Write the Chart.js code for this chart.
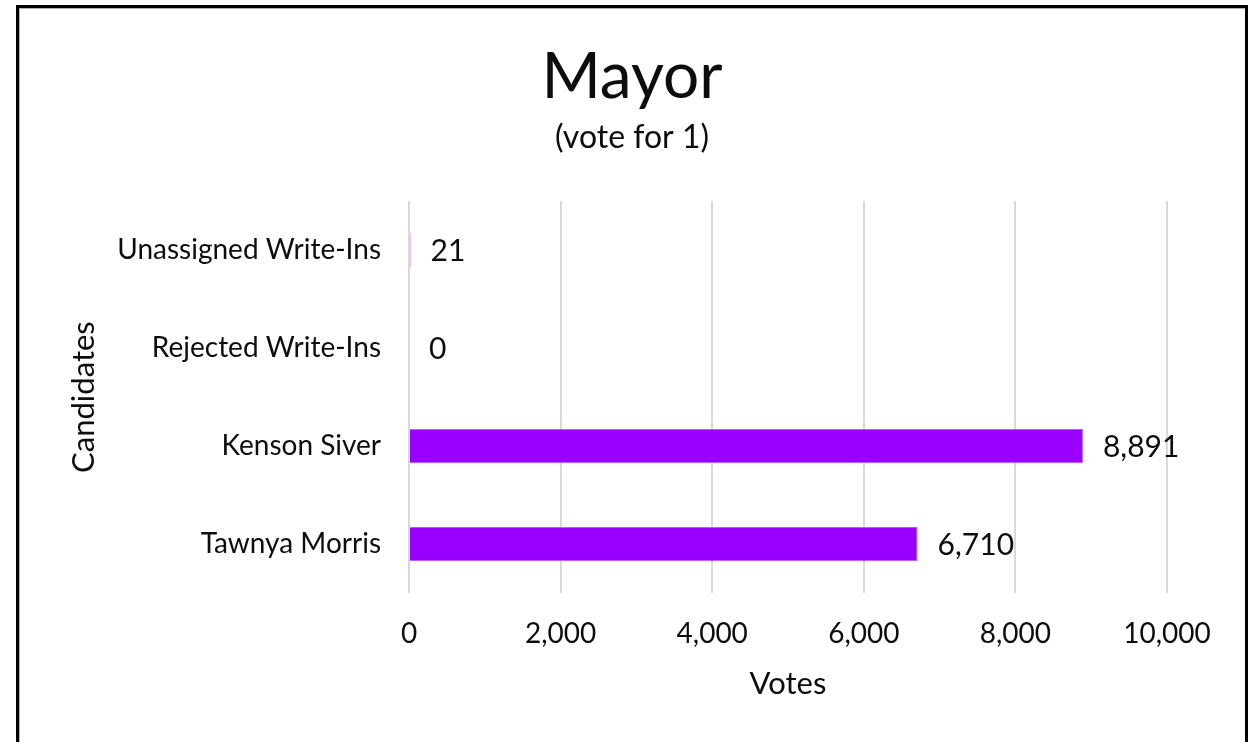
<!DOCTYPE html>
<html>
<head>
<meta charset="utf-8">
<script src="https://cdn.jsdelivr.net/npm/chart.js@4/dist/chart.umd.min.js"></script>
<style>
  html, body { margin: 0; padding: 0; background: #fff; }
  #wrap { position: relative; width: 1256px; height: 742px; overflow: hidden; }
  #frame {
    position: absolute; left: 16px; top: 5px; width: 1226px; height: 760px;
    border: 3px solid #000; box-shadow: inset 1px 1px 0 #b0b0b0;
    pointer-events: none;
  }
</style>
</head>
<body>
<div id="wrap">
  <canvas id="mayorChart" width="1256" height="742"></canvas>
  <div id="frame"></div>
</div>
<script>
// chart data
const candidates = ['Unassigned Write-Ins', 'Rejected Write-Ins', 'Kenson Siver', 'Tawnya Morris'];
const votes = [21, 0, 8891, 6710];
const xTicks = [0, 2000, 4000, 6000, 8000, 10000];

const FONT = 'Lato, Calibri, sans-serif';
const TEXT = '#0d0d0d';

// draws the vote count next to each bar
const valueLabels = {
    id: 'valueLabels',
    afterDatasetsDraw(chart) {
        const ctx = chart.ctx;
        const meta = chart.getDatasetMeta(0);
        ctx.save();
        ctx.font = '30px ' + FONT;
        ctx.fillStyle = TEXT;
        ctx.textAlign = 'left';
        ctx.textBaseline = 'middle';
        meta.data.forEach((bar, i) => {
            ctx.fillText(votes[i].toLocaleString('en-US'), bar.x + 20, bar.y + 1);
        });
        ctx.restore();
    }
};

document.addEventListener('DOMContentLoaded', () => {
    const ctx = document.getElementById('mayorChart').getContext('2d');
    new Chart(ctx, {
        type: 'bar',
        data: {
            labels: candidates,
            datasets: [{
                data: votes,
                backgroundColor: '#9900ff',
                borderColor: '#b25cff',
                borderWidth: 1,
                categoryPercentage: 1,
                barPercentage: 0.35
            }]
        },
        options: {
            indexAxis: 'y',
            responsive: false,
            animation: false,
            layout: { padding: { left: 8, right: 0, top: 0, bottom: 35 } },
            plugins: {
                legend: { display: false },
                tooltip: { enabled: false },
                title: {
                    display: true,
                    text: 'Mayor',
                    color: TEXT,
                    font: { family: FONT, size: 64, weight: 'normal' },
                    padding: { top: 39, bottom: 0 }
                },
                subtitle: {
                    display: true,
                    text: '(vote for 1)',
                    color: TEXT,
                    font: { family: FONT, size: 32, weight: 'normal' },
                    padding: { top: 3, bottom: 44 }
                }
            },
            scales: {
                x: {
                    min: 0,
                    max: 10000,
                    afterBuildTicks: (scale) => { scale.ticks = xTicks.map(v => ({ value: v })); },
                    afterFit: (scale) => { scale.height = 114; scale.paddingRight = 89; },
                    grid: { color: '#d9d9d9', lineWidth: 2, drawTicks: false },
                    border: { display: false },
                    ticks: {
                        color: TEXT,
                        padding: 24,
                        font: { family: FONT, size: 28 },
                        callback: (v) => Number(v).toLocaleString('en-US')
                    },
                    title: {
                        display: true,
                        text: 'Votes',
                        color: TEXT,
                        font: { family: FONT, size: 31 },
                        padding: { top: 4, bottom: 4 }
                    }
                },
                y: {
                    afterFit: (scale) => { scale.width = 401; },
                    grid: { display: false, drawTicks: false },
                    border: { display: false },
                    ticks: {
                        color: TEXT,
                        padding: 28,
                        font: { family: FONT, size: 28 }
                    },
                    title: {
                        display: true,
                        text: 'Candidates',
                        color: TEXT,
                        font: { family: FONT, size: 31 },
                        padding: { top: 57, bottom: 4 }
                    }
                }
            }
        },
        plugins: [valueLabels]
    });
});
</script>
</body>
</html>
